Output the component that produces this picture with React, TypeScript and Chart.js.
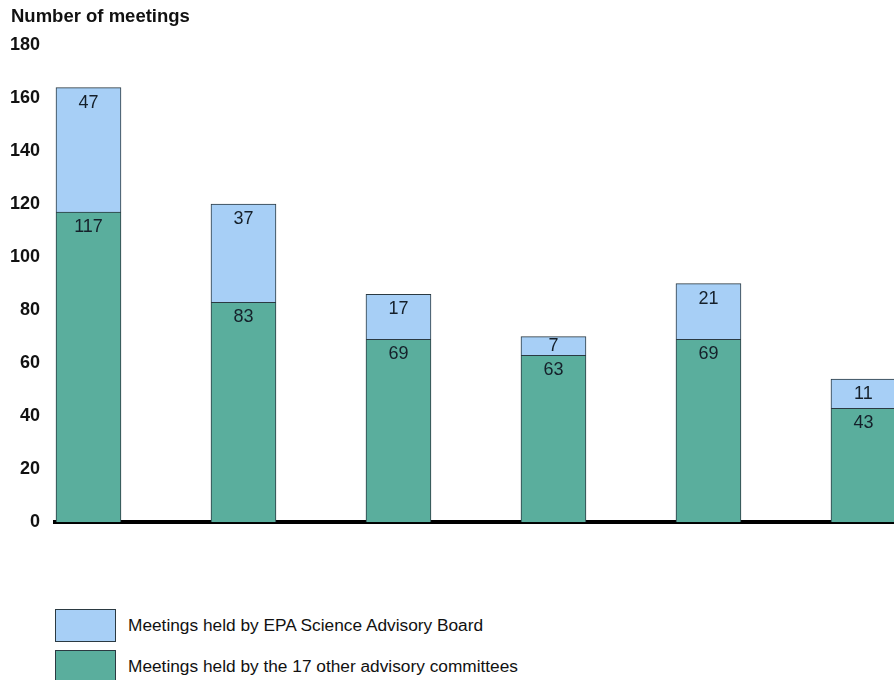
import React, { useEffect, useRef } from "react";
import { Chart, registerables } from "chart.js";

Chart.register(...registerables);

const titleText = "Number of meetings";
const categories = ["Period 1", "Period 2", "Period 3", "Period 4", "Period 5", "Period 6"];
const otherCommittees = [117, 83, 69, 63, 69, 43];
const scienceBoard = [47, 37, 17, 7, 21, 11];
const seriesLabels = [
  "Meetings held by EPA Science Advisory Board",
  "Meetings held by the 17 other advisory committees",
];
const seriesColors = ["#A7CFF6", "#5AAE9D"];
const yTicks = [0, 20, 40, 60, 80, 100, 120, 140, 160, 180];

const FONT = '"Liberation Sans", Arial, Helvetica, sans-serif';
const BORDER = "#2b3a42";

const valueLabels = {
  id: "valueLabels",
  afterDatasetsDraw(chart: any) {
    const ctx = chart.ctx;
    ctx.save();
    ctx.font = `18px ${FONT}`;
    ctx.fillStyle = "#15202a";
    ctx.textAlign = "center";
    ctx.textBaseline = "middle";
    chart.data.datasets.forEach((ds: any, i: number) => {
      const meta = chart.getDatasetMeta(i);
      meta.data.forEach((bar: any, j: number) => {
        const { x, y, base } = bar.getProps(["x", "y", "base"], true);
        const h = Math.abs(base - y);
        const ty = Math.min(y, base) + Math.min(15, h / 2);
        ctx.fillText(String(ds.data[j].y), x, ty);
      });
    });
    ctx.restore();
  },
};

export default function App() {
  const ref = useRef<HTMLCanvasElement | null>(null);

  useEffect(() => {
    if (!ref.current) return;
    Chart.defaults.font.family = FONT;
    const chart = new Chart(ref.current, {
      type: "bar",
      data: {
        labels: categories,
        datasets: [
          {
            label: seriesLabels[1],
            data: otherCommittees.map((v, i) => ({ x: i, y: v })),
            backgroundColor: seriesColors[1],
            borderColor: BORDER,
            borderWidth: 1,
            barThickness: 65,
            stack: "s",
          },
          {
            label: seriesLabels[0],
            data: scienceBoard.map((v, i) => ({ x: i, y: v })),
            backgroundColor: seriesColors[0],
            borderColor: BORDER,
            borderWidth: 1,
            barThickness: 65,
            stack: "s",
          },
        ],
      },
      options: {
        animation: false,
        responsive: false,
        maintainAspectRatio: false,
        layout: { padding: { left: 11, top: 0, right: 0, bottom: 0 } },
        plugins: {
          legend: { display: false },
          tooltip: { enabled: false },
          title: {
            display: true,
            text: titleText,
            align: "start",
            color: "#111",
            font: { size: 18.5, weight: "bold", family: FONT },
            padding: { top: 6, bottom: 17 },
          },
        },
        scales: {
          x: {
            type: "linear",
            stacked: true,
            offset: false,
            min: -0.216,
            max: 5.197,
            grid: { display: false },
            ticks: { display: false },
            border: { display: true, color: "#000", width: 4 },
            afterFit: (s: any) => {
              s.height = 6;
            },
          },
          y: {
            stacked: true,
            min: 0,
            max: 180,
            afterBuildTicks: (s: any) => {
              s.ticks = yTicks.map((v) => ({ value: v }));
            },
            grid: { display: false, drawTicks: false },
            border: { display: false },
            ticks: {
              color: "#111",
              padding: 15,
              font: { size: 18, weight: "bold", family: FONT },
            },
            afterFit: (s: any) => {
              s.width = 44;
            },
          },
        },
      },
      plugins: [valueLabels],
    });
    return () => chart.destroy();
  }, []);

  const legendItem = (i: number, top: number) => (
    <div key={i} style={{ position: "absolute", left: 55, top, height: 33, display: "flex", alignItems: "center" }}>
      <div
        style={{
          width: 61,
          height: 33,
          boxSizing: "border-box",
          background: seriesColors[i],
          border: `1px solid ${BORDER}`,
        }}
      />
      <span style={{ marginLeft: 12, font: `17.3px ${FONT}`, color: "#111", whiteSpace: "nowrap" }}>
        {seriesLabels[i]}
      </span>
    </div>
  );

  return (
    <div
      style={{
        position: "fixed",
        left: 0,
        top: 0,
        width: 894,
        height: 680,
        overflow: "hidden",
        background: "#fff",
      }}
    >
      <canvas ref={ref} width={894} height={548} style={{ position: "absolute", left: 0, top: 0, width: 894, height: 548 }} />
      {legendItem(0, 609)}
      {legendItem(1, 650)}
    </div>
  );
}
